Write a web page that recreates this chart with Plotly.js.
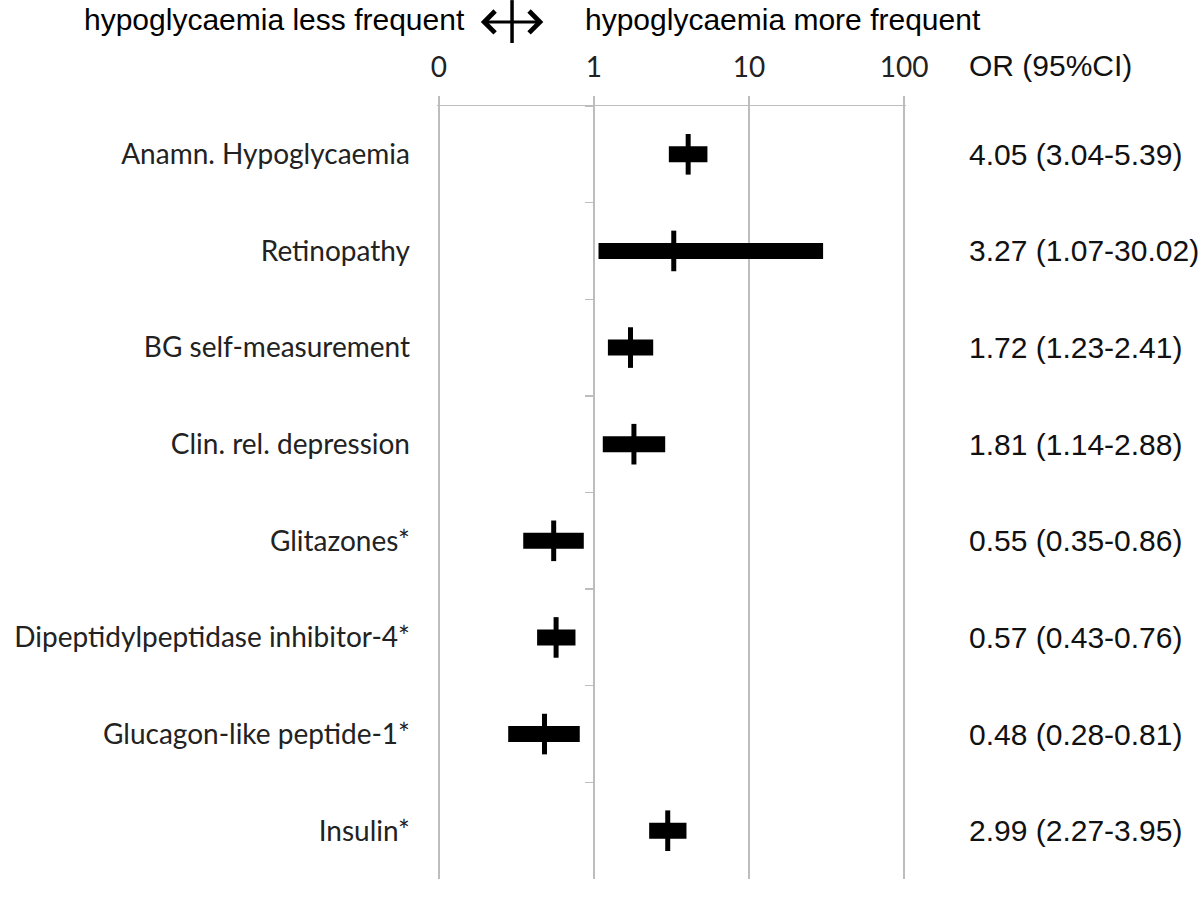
<!DOCTYPE html>
<html>
<head>
<meta charset="utf-8">
<script src="https://cdn.plot.ly/plotly-3.0.1.min.js"></script>
<style>
  html, body { margin: 0; padding: 0; background: #ffffff; }
  #chart { width: 1200px; height: 903px; }
</style>
</head>
<body>
<div id="chart"></div>
<script>
// Odds ratios for hypoglycaemia, one row per factor
const factors = [
  'Anamn. Hypoglycaemia',
  'Retinopathy',
  'BG self-measurement',
  'Clin. rel. depression',
  'Glitazones*',
  'Dipeptidylpeptidase inhibitor-4*',
  'Glucagon-like peptide-1*',
  'Insulin*',
];
const oddsRatio = [4.05, 3.27, 1.72, 1.81, 0.55, 0.57, 0.48, 2.99];
const ciLow = [3.04, 1.07, 1.23, 1.14, 0.35, 0.43, 0.28, 2.27];
const ciHigh = [5.39, 30.02, 2.41, 2.88, 0.86, 0.76, 0.81, 3.95];

const axisTicks = [0.1, 1, 10, 100];
const axisTickText = ['0', '1', '10', '100'];

const gridGrey = '#bdbdbd';
const labelFont = 'Lato, Carlito, Calibri, sans-serif';
const arialFont = '"Liberation Sans", Arial, Helvetica, sans-serif';

// log range padded a touch so the edge gridlines (0.1 and 100) are not clipped
const xPad = 0.012;
const xRange = [-1 - xPad, 2 + xPad];

// Build the CI bars as line segments separated by gaps
const barX = [];
const barY = [];
factors.forEach((f, i) => {
  barX.push(ciLow[i], ciHigh[i], null);
  barY.push(f, f, null);
});

// Right hand "OR (95%CI)" column
const orAnnotations = factors.map((f, i) => ({
  xref: 'paper', yref: 'y',
  x: 1.13, y: f,
  xanchor: 'left', yanchor: 'middle',
  text: `${oddsRatio[i].toFixed(2)} (${ciLow[i].toFixed(2)}-${ciHigh[i].toFixed(2)})`,
  showarrow: false,
  font: { family: arialFont, size: 30, color: '#111' },
}));

Plotly.newPlot('chart', [
  {
    x: barX,
    y: barY,
    type: 'scatter',
    mode: 'lines',
    line: { color: '#000', width: 16 },
    connectgaps: false,
    hoverinfo: 'skip',
    showlegend: false,
  },
  {
    x: oddsRatio,
    y: factors,
    yaxis: 'y2',
    type: 'scatter',
    mode: 'markers',
    marker: { symbol: 'line-ns', size: 29, color: '#000', line: { color: '#000', width: 5 } },
    hovertemplate: '%{y}: %{x}<extra></extra>',
    showlegend: false,
  },
], {
  width: 1200,
  height: 903,
  margin: { l: 437, r: 294, t: 106, b: 24 },
  paper_bgcolor: '#ffffff',
  plot_bgcolor: '#ffffff',
  xaxis: {
    type: 'log',
    range: xRange,
    side: 'top',
    tickvals: axisTicks,
    ticktext: axisTickText,
    showgrid: true,
    gridcolor: gridGrey,
    gridwidth: 1.3,
    showline: true,
    linecolor: gridGrey,
    linewidth: 1.3,
    ticks: 'outside',
    ticklen: 9,
    tickcolor: gridGrey,
    tickwidth: 1.3,
    ticklabelstandoff: 8,
    tickfont: { family: labelFont, size: 28, color: '#222' },
    zeroline: false,
    fixedrange: true,
  },
  yaxis: {
    type: 'category',
    categoryorder: 'array',
    categoryarray: factors,
    range: [7.5, -0.5],
    showgrid: false,
    showline: false,
    ticks: '',
    ticklabelstandoff: 26,
    tickfont: { family: labelFont, size: 28, color: '#222' },
    fixedrange: true,
  },
  yaxis2: {
    type: 'category',
    categoryorder: 'array',
    categoryarray: factors,
    range: [7.5, -0.5],
    overlaying: 'y',
    anchor: 'free',
    position: (1 + xPad) / (3 + 2 * xPad),
    side: 'left',
    showgrid: false,
    showline: true,
    linecolor: gridGrey,
    linewidth: 1.3,
    ticks: 'outside',
    tickson: 'boundaries',
    ticklen: 9,
    tickcolor: gridGrey,
    tickwidth: 1.3,
    showticklabels: false,
    fixedrange: true,
  },
  shapes: [
    // vertical stroke of the direction cross in the header
    { type: 'line', xref: 'paper', yref: 'paper', x0: 0.160, x1: 0.160, y0: 1.137, y1: 1.0815,
      line: { color: '#000', width: 3.5 } },
  ],
  annotations: [
    {
      xref: 'paper', yref: 'paper', x: 0.064, y: 1.1113,
      xanchor: 'right', yanchor: 'middle',
      text: 'hypoglycaemia less frequent', showarrow: false,
      font: { family: arialFont, size: 30, color: '#000' },
    },
    {
      xref: 'paper', yref: 'paper', x: 0.311, y: 1.1113,
      xanchor: 'left', yanchor: 'middle',
      text: 'hypoglycaemia more frequent', showarrow: false,
      font: { family: arialFont, size: 30, color: '#000' },
    },
    {
      xref: 'paper', yref: 'paper', x: 0.2267, y: 1.1087,
      text: '', showarrow: true,
      ax: -64, ay: 0,
      arrowside: 'end+start', arrowhead: 4, arrowsize: 1.4, arrowwidth: 3,
      arrowcolor: '#000', standoff: 0, startstandoff: 0,
    },
    {
      xref: 'paper', yref: 'paper', x: 1.13, y: 1.053,
      xanchor: 'left', yanchor: 'middle',
      text: 'OR (95%CI)', showarrow: false,
      font: { family: arialFont, size: 30, color: '#111' },
    },
    ...orAnnotations,
  ],
}, { displayModeBar: false, staticPlot: true });
</script>
</body>
</html>
